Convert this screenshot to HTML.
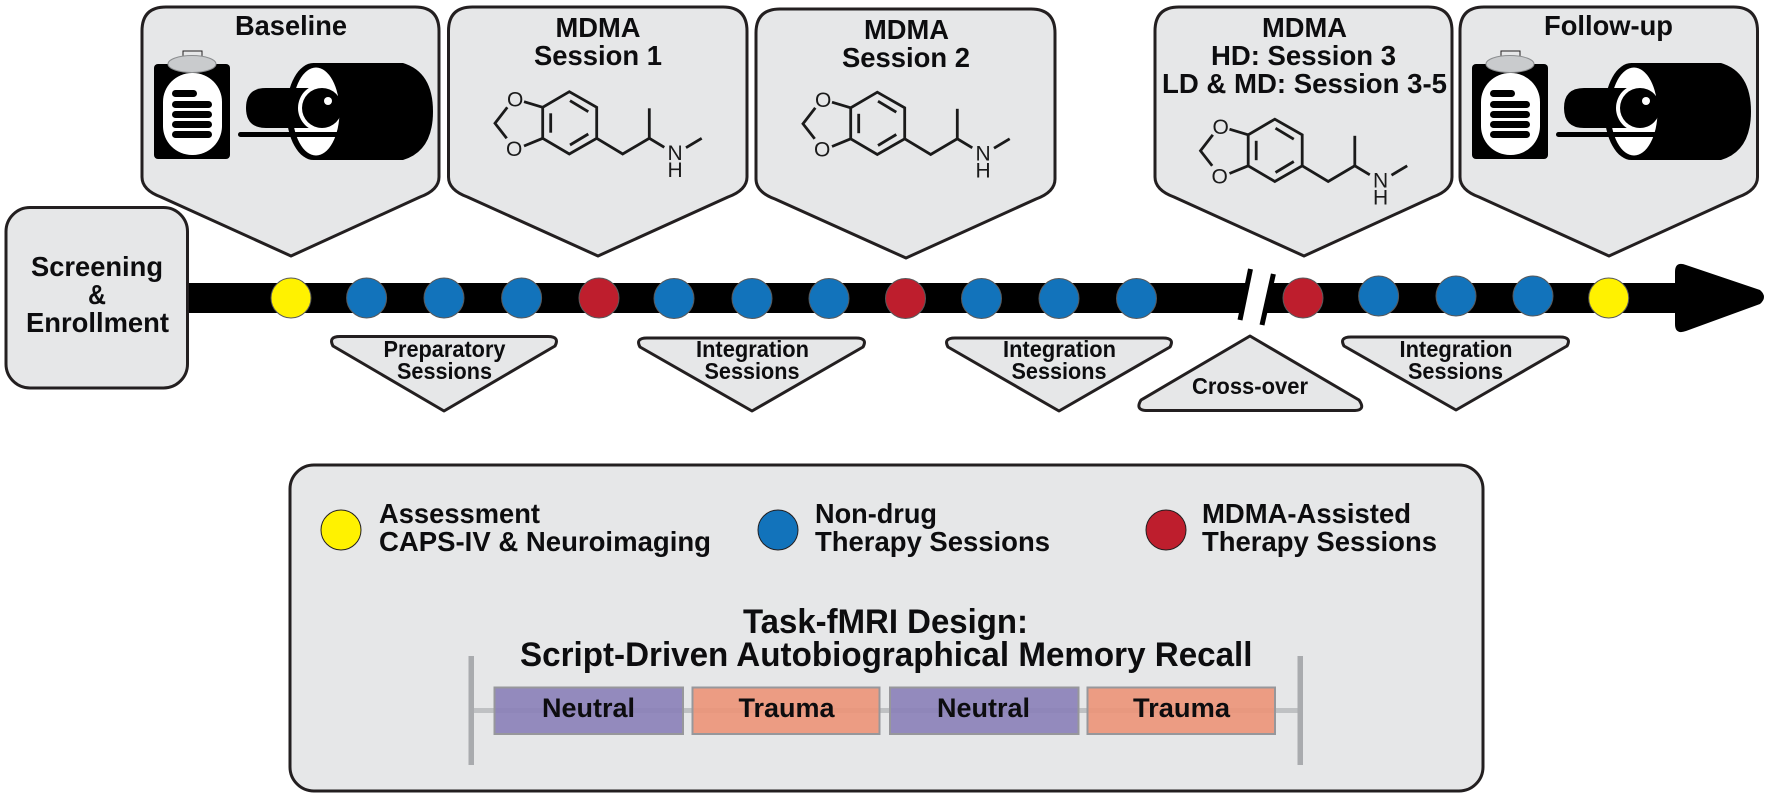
<!DOCTYPE html>
<html><head><meta charset="utf-8">
<style>
html,body{margin:0;padding:0;background:#fff;width:1772px;height:798px;overflow:hidden}
svg{display:block}
text{font-family:"Liberation Sans",sans-serif;font-weight:700;fill:#0d0d0f}
.box{fill:#e6e7e8;stroke:#231f20;stroke-width:3;stroke-linejoin:round}
.t26{font-size:28px}.t25{font-size:27.5px}.t21{font-size:23px}.t32{font-size:34.5px}.t27{font-size:26.5px}
.mol text{font-weight:400;font-size:21px;fill:#1a1a1a}
.c{stroke:#58595b;stroke-width:1}
</style></head><body>
<svg width="1772" height="798" viewBox="0 0 1772 798" xmlns="http://www.w3.org/2000/svg">
<defs>
<clipPath id="ell"><ellipse cx="316" cy="111.5" rx="23.5" ry="44"/></clipPath>
<g id="icon">
  <rect x="154" y="64" width="76" height="95" rx="4" fill="#000"/>
  <rect x="163" y="73" width="59" height="82" rx="29" fill="#fff"/>
  <rect x="183" y="51" width="19" height="9" fill="#e6e7e8" stroke="#231f20" stroke-width="1"/>
  <ellipse cx="192" cy="64" rx="24" ry="8.5" fill="#c9cbcd" stroke="#8c8e90" stroke-width="1"/>
  <rect x="172" y="90" width="25" height="7" rx="3.5" fill="#000"/>
  <rect x="172" y="101" width="40" height="7" rx="3.5" fill="#000"/>
  <rect x="172" y="111" width="40" height="7" rx="3.5" fill="#000"/>
  <rect x="172" y="121" width="40" height="7" rx="3.5" fill="#000"/>
  <rect x="172" y="131" width="40" height="7" rx="3.5" fill="#000"/>
  <path d="M313,63 H403 Q433,72 433,111.5 Q433,151 403,160 H313 Z" fill="#000"/>
  <ellipse cx="313.5" cy="111.5" rx="27" ry="48.5" fill="#000"/>
  <ellipse cx="316" cy="111.5" rx="23.5" ry="44" fill="#fff"/>
  <path d="M266,88 H312 V128 H266 Q246,128 246,108 Q246,88 266,88Z" fill="#000"/>
  <path d="M322,84 A24,24 0 0 0 322,132Z" fill="#fff"/>
  <circle cx="322" cy="108" r="20" fill="#000"/>
  <circle cx="328" cy="101" r="4" fill="#fff"/>
  <rect x="238" y="132" width="102" height="5" rx="2.5" fill="#000"/>
</g>
<g id="mol" fill="none" stroke="#1a1a1a" stroke-width="2.8">
  <polygon points="569.3,91.7 596.7,107.3 596.7,138.3 569.3,154 542.7,138.3 542.7,107.3"/>
  <line x1="570" y1="100.7" x2="588.3" y2="111.7"/>
  <line x1="588.3" y1="134" x2="570" y2="145"/>
  <line x1="550.7" y1="113.3" x2="550.7" y2="132.7"/>
  <line x1="524" y1="101.7" x2="542.7" y2="107.3"/>
  <line x1="524" y1="146" x2="542.7" y2="138.3"/>
  <polyline points="507.3,107.3 495,123.3 506.7,138.3"/>
  <polyline points="596.7,138.3 622.7,154 649.3,138.3 664.3,147.3"/>
  <line x1="649.3" y1="138.3" x2="649.3" y2="108.3"/>
  <line x1="686" y1="147.7" x2="701.7" y2="138.3"/>
</g>
</defs>

<!-- bar + arrow -->
<rect x="187" y="283" width="1500" height="30" fill="#000"/>
<path d="M1675,272 Q1675,261 1686,265 L1760,290 Q1768,297 1760,304 L1686,331 Q1675,335 1675,324Z" fill="#000"/>
<polygon points="1250.5,270 1273.4,274 1262,325 1240,321" fill="#fff"/>
<line x1="1250.5" y1="269" x2="1240" y2="320" stroke="#000" stroke-width="5"/>
<line x1="1273.4" y1="274" x2="1262" y2="325" stroke="#000" stroke-width="5"/>

<!-- house boxes -->
<path class="box" d="M166,7 H415 Q439,7 439,31 V177 Q439,190 420,197 L291,256 L161,197 Q142,190 142,177 V31 Q142,7 166,7Z"/>
<path class="box" d="M472.5,7 H723 Q747,7 747,31 V177 Q747,190 728,197 L598,256 L467.5,197 Q448.5,190 448.5,177 V31 Q448.5,7 472.5,7Z"/>
<path class="box" d="M780,9 H1031 Q1055,9 1055,33 V179 Q1055,192 1036,199 L906,258 L775,199 Q756,192 756,179 V33 Q756,9 780,9Z"/>
<path class="box" d="M1179,7 H1428 Q1452,7 1452,31 V177 Q1452,190 1433,197 L1304,256 L1174,197 Q1155,190 1155,177 V31 Q1155,7 1179,7Z"/>
<path class="box" d="M1484,7 H1733.5 Q1757.5,7 1757.5,31 V177 Q1757.5,190 1738.5,197 L1609,256 L1479,197 Q1460,190 1460,177 V31 Q1460,7 1484,7Z"/>

<!-- screening -->
<rect class="box" x="6" y="207.5" width="181.5" height="180.5" rx="24"/>

<!-- icons -->
<use href="#icon"/>
<use href="#icon" transform="translate(1318,0)"/>

<!-- molecules -->
<g class="mol">
  <use href="#mol"/>
  <text x="507" y="106.7">O</text><text x="506" y="156">O</text><text x="667.5" y="160">N</text><text x="667.5" y="177">H</text>
</g>
<g class="mol" transform="translate(308,0.5)">
  <use href="#mol"/>
  <text x="507" y="106.7">O</text><text x="506" y="156">O</text><text x="667.5" y="160">N</text><text x="667.5" y="177">H</text>
</g>
<g class="mol" transform="translate(705.5,27.5)">
  <use href="#mol"/>
  <text x="507" y="106.7">O</text><text x="506" y="156">O</text><text x="667.5" y="160">N</text><text x="667.5" y="177">H</text>
</g>

<!-- timeline dots -->
<g class="c">
<circle cx="291" cy="298" r="20" fill="#fff200"/>
<circle cx="366.6" cy="298" r="20" fill="#1273bb"/>
<circle cx="444" cy="298" r="20" fill="#1273bb"/>
<circle cx="521.6" cy="298" r="20" fill="#1273bb"/>
<circle cx="599" cy="298" r="20" fill="#be1e2d"/>
<circle cx="674" cy="298.5" r="20" fill="#1273bb"/>
<circle cx="752" cy="298.5" r="20" fill="#1273bb"/>
<circle cx="829" cy="298.5" r="20" fill="#1273bb"/>
<circle cx="905.5" cy="298.5" r="20" fill="#be1e2d"/>
<circle cx="981.5" cy="298.5" r="20" fill="#1273bb"/>
<circle cx="1059" cy="298.5" r="20" fill="#1273bb"/>
<circle cx="1136.5" cy="298.5" r="20" fill="#1273bb"/>
<circle cx="1303" cy="298" r="20" fill="#be1e2d"/>
<circle cx="1378.6" cy="296" r="20" fill="#1273bb"/>
<circle cx="1456" cy="296" r="20" fill="#1273bb"/>
<circle cx="1533" cy="296" r="20" fill="#1273bb"/>
<circle cx="1608.7" cy="298" r="20" fill="#fff200"/>
</g>

<!-- triangles -->
<path class="box" d="M340,336.5 H548 Q560,336.5 555,346 L444,411 L333,346 Q328,336.5 340,336.5Z"/>
<path class="box" d="M647,338 H856 Q868,338 863,347 L752,411 L640,347 Q635,338 647,338Z"/>
<path class="box" d="M955,338 H1163 Q1175,338 1170,347 L1059,411 L948,347 Q943,338 955,338Z"/>
<path class="box" d="M1351,337 H1560 Q1572,337 1567,346 L1456,410 L1344,346 Q1339,337 1351,337Z"/>
<path class="box" d="M1250,336 L1359,400 Q1366,410 1355,410.5 H1146 Q1135,410 1141,400Z"/>

<!-- legend panel -->
<rect class="box" x="290" y="465" width="1193" height="326" rx="24"/>
<circle cx="341" cy="530" r="20" fill="#fff200" stroke="#231f20"/>
<circle cx="778" cy="530" r="20" fill="#1273bb" stroke="#231f20"/>
<circle cx="1166" cy="530" r="20" fill="#be1e2d" stroke="#231f20"/>

<!-- fMRI blocks -->
<rect x="469" y="708" width="833" height="5" fill="#bfc1c3"/>
<rect x="468.5" y="656" width="5.5" height="109" fill="#a9abae"/>
<rect x="1297.5" y="656" width="5.5" height="109" fill="#a9abae"/>
<g stroke="#97979b" stroke-width="2">
<rect x="494.5" y="687.5" width="188.5" height="46.5" fill="#8a80b8" fill-opacity=".9"/>
<rect x="692.5" y="687.5" width="187" height="46.5" fill="#ec9378" fill-opacity=".9"/>
<rect x="890" y="687.5" width="188.5" height="46.5" fill="#8a80b8" fill-opacity=".9"/>
<rect x="1087.5" y="687.5" width="187.5" height="46.5" fill="#ec9378" fill-opacity=".9"/>
</g>

<!-- text -->
<text class="t26" x="235" y="35" textLength="112" lengthAdjust="spacingAndGlyphs">Baseline</text>
<text class="t26" x="555.5" y="37" textLength="85" lengthAdjust="spacingAndGlyphs">MDMA</text>
<text class="t26" x="534" y="65" textLength="128" lengthAdjust="spacingAndGlyphs">Session 1</text>
<text class="t26" x="864" y="39" textLength="85" lengthAdjust="spacingAndGlyphs">MDMA</text>
<text class="t26" x="842" y="67" textLength="128" lengthAdjust="spacingAndGlyphs">Session 2</text>
<text class="t26" x="1262" y="37" textLength="85" lengthAdjust="spacingAndGlyphs">MDMA</text>
<text class="t26" x="1211" y="65" textLength="185" lengthAdjust="spacingAndGlyphs">HD: Session 3</text>
<text class="t26" x="1162" y="93" textLength="285" lengthAdjust="spacingAndGlyphs">LD &amp; MD: Session 3-5</text>
<text class="t26" x="1544" y="35" textLength="129" lengthAdjust="spacingAndGlyphs">Follow-up</text>
<text class="t26" x="31" y="276" textLength="132" lengthAdjust="spacingAndGlyphs">Screening</text>
<text class="t26" x="88" y="304" textLength="18" lengthAdjust="spacingAndGlyphs">&amp;</text>
<text class="t26" x="26" y="332" textLength="143" lengthAdjust="spacingAndGlyphs">Enrollment</text>

<text class="t21" x="383.5" y="357" textLength="122" lengthAdjust="spacingAndGlyphs">Preparatory</text>
<text class="t21" x="397" y="379" textLength="95" lengthAdjust="spacingAndGlyphs">Sessions</text>
<text class="t21" x="696" y="357" textLength="113" lengthAdjust="spacingAndGlyphs">Integration</text>
<text class="t21" x="704.5" y="379" textLength="95" lengthAdjust="spacingAndGlyphs">Sessions</text>
<text class="t21" x="1003" y="357" textLength="113" lengthAdjust="spacingAndGlyphs">Integration</text>
<text class="t21" x="1011.5" y="379" textLength="95" lengthAdjust="spacingAndGlyphs">Sessions</text>
<text class="t21" x="1399.5" y="357" textLength="113" lengthAdjust="spacingAndGlyphs">Integration</text>
<text class="t21" x="1408" y="379" textLength="95" lengthAdjust="spacingAndGlyphs">Sessions</text>
<text class="t21" x="1192" y="394" textLength="116" lengthAdjust="spacingAndGlyphs">Cross-over</text>

<text class="t25" x="379" y="523" textLength="161" lengthAdjust="spacingAndGlyphs">Assessment</text>
<text class="t25" x="379" y="551" textLength="332" lengthAdjust="spacingAndGlyphs">CAPS-IV &amp; Neuroimaging</text>
<text class="t25" x="815" y="523" textLength="122" lengthAdjust="spacingAndGlyphs">Non-drug</text>
<text class="t25" x="815" y="551" textLength="235" lengthAdjust="spacingAndGlyphs">Therapy Sessions</text>
<text class="t25" x="1202" y="523" textLength="209" lengthAdjust="spacingAndGlyphs">MDMA-Assisted</text>
<text class="t25" x="1202" y="551" textLength="235" lengthAdjust="spacingAndGlyphs">Therapy Sessions</text>

<text class="t32" x="743" y="633" textLength="285" lengthAdjust="spacingAndGlyphs">Task-fMRI Design:</text>
<text class="t32" x="520" y="666" textLength="732.5" lengthAdjust="spacingAndGlyphs">Script-Driven Autobiographical Memory Recall</text>

<text class="t27" x="542" y="717" textLength="93" lengthAdjust="spacingAndGlyphs">Neutral</text>
<text class="t27" x="738.5" y="717" textLength="96" lengthAdjust="spacingAndGlyphs">Trauma</text>
<text class="t27" x="937" y="717" textLength="93" lengthAdjust="spacingAndGlyphs">Neutral</text>
<text class="t27" x="1133" y="717" textLength="97" lengthAdjust="spacingAndGlyphs">Trauma</text>
</svg>
</body></html>
